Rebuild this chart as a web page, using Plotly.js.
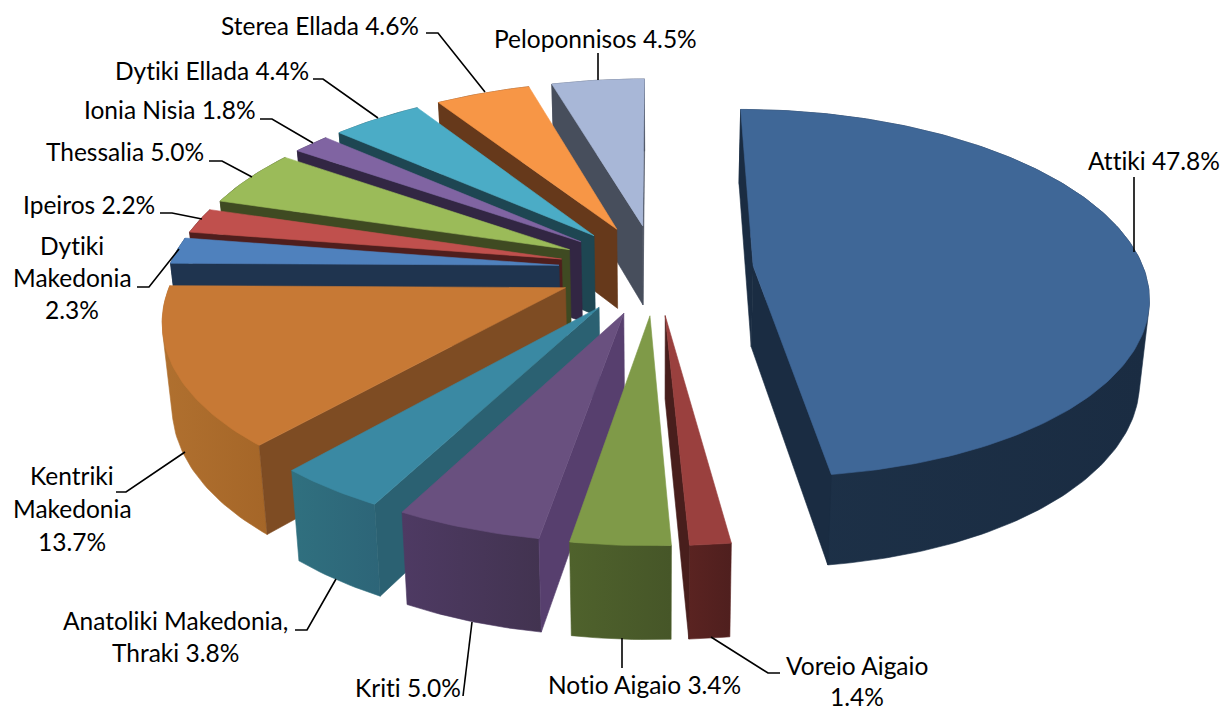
<!DOCTYPE html>
<html>
<head>
<meta charset="utf-8">
<script src="https://cdn.plot.ly/plotly-3.0.1.min.js"></script>
<style>html,body{margin:0;padding:0;background:#fff}#chart{width:1220px;height:706px}text{font-variant-ligatures:none;font-feature-settings:"liga" 0}</style>
</head>
<body>
<div id="chart"></div>
<script>
// Data, clockwise from the top
const categories = ["Attiki","Voreio Aigaio","Notio Aigaio","Kriti","Anatoliki Makedonia, Thraki","Kentriki Makedonia","Dytiki Makedonia","Ipeiros","Thessalia","Ionia Nisia","Dytiki Ellada","Sterea Ellada","Peloponnisos"];
const values = [47.8,1.4,3.4,5.0,3.8,13.7,2.3,2.2,5.0,1.8,4.4,4.6,4.5];

// Styles
const topColors = ["#3F6797","#9A403E","#7F9A48","#69507F","#3A89A3","#C77935","#4F81BD","#C0504D","#9BBB59","#8064A2","#4BACC6","#F79646","#A8B7D7"];
const rimColors = [["#1D3148","#1A2C42"],["#5A2321","#4F1F1E"],["#4F622C","#465628"],["#4E3A63","#423350"],["#30707F","#2D6578"],["#B0702F","#A56628"],["#1F344F","#1F344F"],["#4F1E1D","#4F1E1D"],["#3F4A22","#3F4A22"],["#322643","#322643"],["#1E4652","#1E4652"],["#66391B","#66391B"],["#474E5C","#474E5C"]];
const sideColors = ["#1A2C42","#481E1C","#465628","#573F6E","#2B6172","#7E4C23","#1F344F","#4F1E1D","#3F4A22","#322643","#1E4652","#66391B","#474E5C"];

// Projection settings (pixels on the 1220x706 axes)
const view = {cx:656, cy:269, rx:390.5, ry:180.5, persp:0.148, floor:0.98, depth:81, pull:0.25};

// Label layout: words per line, line centre x, line y values, leader polylines
const labelWords = [[2],[2,1],[3],[2],[2,2],[1,1,1],[1,1,1],[2],[2],[3],[3],[3],[2]];
const labelX = [1154,857,644,408,175,72,72,89,125,170,212,320,595];
const labelY = [[160],[665,696],[684],[687],[620,652],[475,508,541],[245,277,309],[204],[151],[109],[70],[25],[38]];
const leaderX = [[1134,1134],[711,768,780],[622,622],[463,472],[295,307,336],[116,126,185],[137,149,179],[160,172,202],[209,222,252],[260,272,313],[313,323,378],[426,438,485],[598,598]];
const leaderY = [[177,252],[637,673,673],[638,668],[696,622],[630,630,579],[492,492,452],[287,287,249],[213,213,219],[161,161,177],[119,119,143],[79,79,118],[33,33,92],[53,80]];

function project(X, Y, low) {
  const d = 1 + view.persp * Y, s = low ? view.floor : 1;
  return [view.cx + s * view.rx * X / d, view.cy - s * view.ry * Y / d + (low ? view.depth / d : 0)];
}
function poly(pts, fill, gradient) {
  const t = {type:"scatter", mode:"lines", x:pts.map(p=>p[0]).concat(pts[0][0]), y:pts.map(p=>p[1]).concat(pts[0][1]),
    fill:"toself", fillcolor:fill, line:{color:fill, width:0.6}, hoverinfo:"skip", showlegend:false};
  if (gradient) { t.fillgradient = {type:"horizontal", colorscale:[[0,gradient[0]],[1,gradient[1]]]}; t.line.color = gradient[0]; }
  return t;
}
const area = pts => pts.reduce((a,p,i)=>{const q=pts[(i+1)%pts.length];return a+p[0]*q[1]-q[0]*p[1];},0)/2;
function hull(pts) {
  const p = pts.slice().sort((a,b)=>a[0]-b[0]||a[1]-b[1]);
  const cross=(o,a,b)=>(a[0]-o[0])*(b[1]-o[1])-(a[1]-o[1])*(b[0]-o[0]);
  const half=list=>{const h=[];list.forEach(q=>{while(h.length>1&&cross(h[h.length-2],h[h.length-1],q)<=0)h.pop();h.push(q);});h.pop();return h;};
  return half(p).concat(half(p.slice().reverse()));
}

const total = values.reduce((a,b)=>a+b,0);
let acc = 0;
const slices = values.map((v,i)=>{
  const a0 = acc/total*2*Math.PI; acc += v; const a1 = acc/total*2*Math.PI; const m=(a0+a1)/2;
  const ox = view.pull*Math.sin(m), oy = view.pull*Math.cos(m);
  const arc = [], n = Math.max(4, Math.ceil((a1-a0)/(Math.PI/180)));
  for (let k=0;k<=n;k++){const a=a0+(a1-a0)*k/n; arc.push([ox+Math.sin(a), oy+Math.cos(a)]);}
  return {i, ox, oy, arc, depth:oy};
}).sort((a,b)=>b.depth-a.depth);

const traces = [];
slices.forEach(s=>{
  const apexT = project(s.ox,s.oy,false), apexB = project(s.ox,s.oy,true);
  const up = s.arc.map(p=>project(p[0],p[1],false)), lo = s.arc.map(p=>project(p[0],p[1],true));
  // outer wall: its silhouette; the radial walls and top drawn after it cover the rest
  traces.push(poly(hull(up.concat(lo)), rimColors[s.i][0], rimColors[s.i]));
  // radial walls, back faces culled
  const e0=[apexT, up[0], lo[0], apexB], e1=[apexT, apexB, lo[lo.length-1], up[up.length-1]];
  [e0,e1].forEach(q=>{ if (area(q) < 0) traces.push(poly(q, sideColors[s.i])); });
  traces.push(poly([apexT].concat(up), topColors[s.i]));
});

// Leaders
categories.forEach((c,i)=>traces.push({type:"scatter",mode:"lines",x:leaderX[i],y:leaderY[i],line:{color:"#000",width:1.6},hoverinfo:"skip",showlegend:false}));

// Labels
const annotations = [];
categories.forEach((c,i)=>{
  const words = (c+" "+values[i].toFixed(1)+"%").split(" ");
  let w=0;
  labelWords[i].forEach((cnt,l)=>{
    annotations.push({x:labelX[i], y:labelY[i][l], xref:"x", yref:"y", text:words.slice(w,w+cnt).join(" "), showarrow:false, xanchor:"center", yanchor:"middle", font:{family:"Lato",size:24.5,color:"#000"}});
    w+=cnt;
  });
});

Plotly.newPlot("chart", traces, {
  width:1220, height:706, margin:{l:0,r:0,t:0,b:0}, paper_bgcolor:"#fff", plot_bgcolor:"#fff", showlegend:false,
  xaxis:{range:[0,1220],visible:false,fixedrange:true},
  yaxis:{range:[706,0],visible:false,fixedrange:true},
  annotations
}, {displayModeBar:false, staticPlot:true});
</script>
</body>
</html>
